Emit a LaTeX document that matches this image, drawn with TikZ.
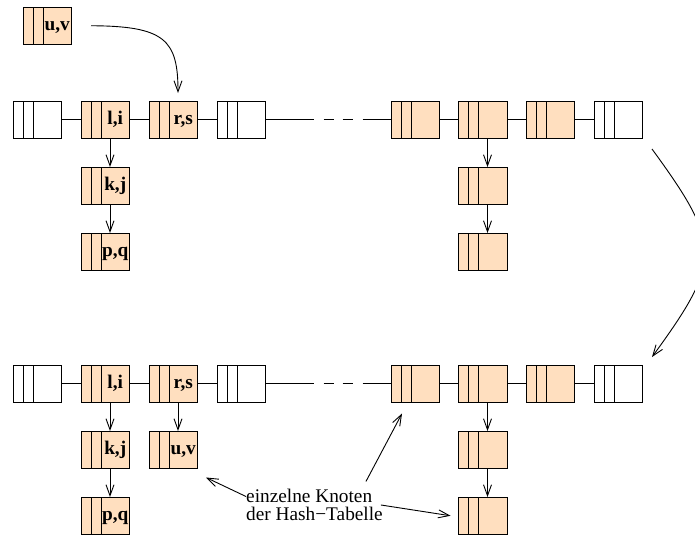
\documentclass[tikz,border=0pt]{standalone}
\usepackage{fontspec}
\setmainfont{Liberation Serif}
\usetikzlibrary{arrows.meta}
\definecolor{peachfill}{RGB}{255,223,191}
\begin{document}
\begin{tikzpicture}[x=1pt,y=1pt,
  cell/.style={draw=black, line width=1pt, minimum width=48.5pt, minimum height=37.5pt,
    inner sep=0pt, outer sep=0pt,
    path picture={
      \draw[line width=1pt] ([xshift=10pt]path picture bounding box.south west) -- ([xshift=10pt]path picture bounding box.north west);
      \draw[line width=1pt] ([xshift=20pt]path picture bounding box.south west) -- ([xshift=20pt]path picture bounding box.north west);
    }},
  filled/.style={cell, fill=peachfill},
  blank/.style={cell, fill=white},
  key/.style={label={[font=\fontsize{19.3}{18}\selectfont\bfseries, inner sep=0pt,
    text height=12.5pt, text depth=3pt, xshift=10pt]center:{#1}}},
  link/.style={line width=0.9pt},
  arr/.style={line width=0.9pt, -{Straight Barb[length=11pt,width=8pt]}},
]
\useasboundingbox (0,0) rectangle (695,-538);

% element waiting to be inserted
\node[filled, key={u,v}] (uv) at (47.25,-25.75) {};

% hash table before insertion
\node[blank]              (t1) at (37.25,-119.75) {};
\node[filled, key={l,i}]  (t2) at (105.25,-119.75) {};
\node[filled, key={r,s}]  (t3) at (173.25,-119.75) {};
\node[blank]              (t4) at (241.25,-119.75) {};
\node[filled]             (t5) at (415.25,-119.75) {};
\node[filled]             (t6) at (482.75,-119.75) {};
\node[filled]             (t7) at (550.25,-119.75) {};
\node[blank]              (t8) at (618.25,-119.75) {};
\node[filled, key={k,j}]  (t2a) at (105.25,-185.75) {};
\node[filled, key={p,q}]  (t2b) at (105.25,-251.75) {};
\node[filled]             (t6a) at (482.75,-185.75) {};
\node[filled]             (t6b) at (482.75,-251.75) {};

% hash table after insertion
\node[blank]              (b1) at (37.25,-383.75) {};
\node[filled, key={l,i}]  (b2) at (105.25,-383.75) {};
\node[filled, key={r,s}]  (b3) at (173.25,-383.75) {};
\node[blank]              (b4) at (241.25,-383.75) {};
\node[filled]             (b5) at (415.25,-383.75) {};
\node[filled]             (b6) at (482.75,-383.75) {};
\node[filled]             (b7) at (550.25,-383.75) {};
\node[blank]              (b8) at (618.25,-383.75) {};
\node[filled, key={k,j}]  (b2a) at (105.25,-449.75) {};
\node[filled, key={p,q}]  (b2b) at (105.25,-515.75) {};
\node[filled, key={u,v}]  (b3a) at (173.25,-449.75) {};
\node[filled]             (b6a) at (482.75,-449.75) {};
\node[filled]             (b6b) at (482.75,-515.75) {};

% horizontal links
\foreach \r in {t,b}{
  \draw[link] (\r1) -- (\r2);
  \draw[link] (\r2) -- (\r3);
  \draw[link] (\r3) -- (\r4);
  \draw[link, dash pattern=on 48pt off 10pt on 10pt off 9pt on 10pt off 10pt on 60pt] (\r4) -- (\r5);
  \draw[link] (\r5) -- (\r6);
  \draw[link] (\r6) -- (\r7);
  \draw[link] (\r7) -- (\r8);
}

% chains
\draw[arr] ([xshift=4.75pt]t2.south) -- ([xshift=4.75pt]t2a.north);
\draw[arr] ([xshift=4.75pt]t2a.south) -- ([xshift=4.75pt]t2b.north);
\draw[arr] ([xshift=4.75pt]t6.south) -- ([xshift=4.75pt]t6a.north);
\draw[arr] ([xshift=4.75pt]t6a.south) -- ([xshift=4.75pt]t6b.north);
\draw[arr] ([xshift=4.75pt]b2.south) -- ([xshift=4.75pt]b2a.north);
\draw[arr] ([xshift=4.75pt]b2a.south) -- ([xshift=4.75pt]b2b.north);
\draw[arr] ([xshift=4.75pt]b3.south) -- ([xshift=4.75pt]b3a.north);
\draw[arr] ([xshift=4.75pt]b6.south) -- ([xshift=4.75pt]b6a.north);
\draw[arr] ([xshift=4.75pt]b6a.south) -- ([xshift=4.75pt]b6b.north);

% insertion
\draw[arr] ([xshift=19.5pt]uv.east) .. controls (165,-26) and (178,-40) .. ([xshift=4.75pt,yshift=8pt]t3.north);

% transition from old to new state
\draw[arr] ([xshift=9.5pt,yshift=-10.5pt]t8.south east) .. controls (722,-245) and (722,-261) .. ([xshift=9.5pt,yshift=8pt]b8.north east);

% annotation
\node[anchor=north west, align=left, inner sep=0pt, font=\fontsize{19.3}{18}\selectfont]
  (note) at (246,-489) {einzelne Knoten\\der Hash−Tabelle};
\draw[arr] ([yshift=-7.5pt]note.north west) -- ([xshift=8.5pt,yshift=-9pt]b3a.south east);
\draw[arr] ([xshift=-17pt,yshift=7.5pt]note.north east) -- ([xshift=11pt,yshift=-11pt]b5.south west);
\draw[arr] ([xshift=-2pt]note.east) -- ([xshift=-8pt]b6b.west);
\end{tikzpicture}
\end{document}
